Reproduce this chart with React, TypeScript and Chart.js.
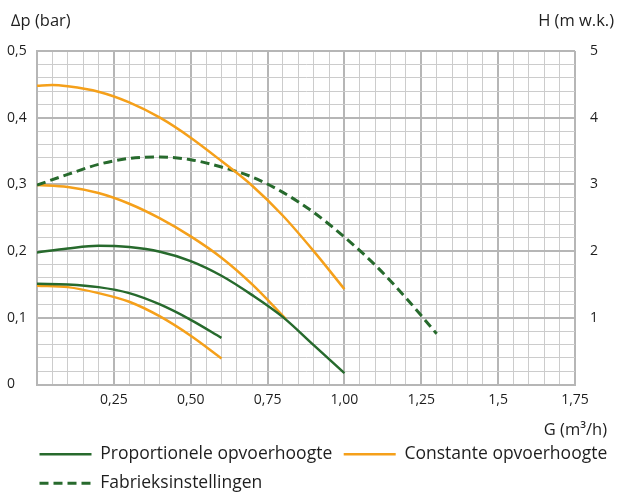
import React, { useEffect, useRef } from 'react';
import { Chart, registerables } from 'chart.js';

Chart.register(...registerables);

// ---- data ----
const propHighX = [0, 0.1, 0.2, 0.3, 0.4, 0.5, 0.6, 0.7, 0.8, 0.9, 1.0];
const propHighY = [0.198, 0.204, 0.208, 0.206, 0.199, 0.185, 0.163, 0.134, 0.101, 0.059, 0.017];

const propLowX = [0, 0.1, 0.2, 0.3, 0.4, 0.5, 0.6];
const propLowY = [0.151, 0.15, 0.146, 0.137, 0.12, 0.097, 0.07];

const constHighX = [0, 0.05, 0.1, 0.2, 0.3, 0.4, 0.5, 0.6, 0.7, 0.8, 0.9, 1.0];
const constHighY = [0.448, 0.449, 0.447, 0.439, 0.423, 0.4, 0.37, 0.335, 0.298, 0.253, 0.2, 0.143];

const constMidX = [0, 0.1, 0.2, 0.3, 0.4, 0.5, 0.6, 0.7, 0.81];
const constMidY = [0.299, 0.296, 0.287, 0.271, 0.249, 0.222, 0.19, 0.15, 0.098];

const constLowX = [0, 0.1, 0.2, 0.3, 0.4, 0.5, 0.6];
const constLowY = [0.148, 0.146, 0.137, 0.124, 0.102, 0.073, 0.039];

const factoryX = [0, 0.1, 0.2, 0.3, 0.4, 0.5, 0.6, 0.7, 0.8, 0.9, 1.0, 1.1, 1.2, 1.3];
const factoryY = [0.299, 0.315, 0.33, 0.339, 0.341, 0.337, 0.326, 0.311, 0.288, 0.258, 0.221, 0.179, 0.13, 0.076];

const xTickValues = [0.25, 0.5, 0.75, 1.0, 1.25, 1.5, 1.75];
const xTickLabels = ['0,25', '0,50', '0,75', '1,00', '1,25', '1,5', '1,75'];
const yTickValues = [0, 0.1, 0.2, 0.3, 0.4, 0.5];
const yTickLabels = ['0', '0,1', '0,2', '0,3', '0,4', '0,5'];
const hTickValues = [1, 2, 3, 4, 5];
const hTickLabels = ['1', '2', '3', '4', '5'];

const seriesLabels = ['Proportionele opvoerhoogte', 'Constante opvoerhoogte', 'Fabrieksinstellingen'];
const leftAxisTitle = '\u2206p (bar)';
const rightAxisTitle = 'H (m w.k.)';
const xAxisTitle = 'G (m\u00B3/h)';

// ---- styles ----
const GREEN = '#276a2d';
const ORANGE = '#f5a01a';
const TEXT = '#1e1e1e';
const FONT = '"Open Sans", "DejaVu Sans", sans-serif';
const MINOR = '#cccccc';
const MAJOR = '#b6b6b6';

const zip = (xs: number[], ys: number[]) => xs.map((x, i) => ({ x, y: ys[i] }));
const labelFor = (v: number, vals: number[], labels: string[]) => {
  const i = vals.findIndex((t) => Math.abs(t - v) < 1e-6);
  return i >= 0 ? labels[i] : '';
};
const isMult = (v: number, step: number) => Math.abs(v / step - Math.round(v / step)) < 1e-6;

export default function App() {
  const ref = useRef<HTMLCanvasElement>(null);

  useEffect(() => {
    if (!ref.current) return;

    const titles = {
      id: 'axisTitles',
      afterDraw(chart: any) {
        const { ctx } = chart;
        ctx.save();
        ctx.fillStyle = TEXT;
        ctx.font = `16.5px ${FONT}`;
        ctx.textBaseline = 'middle';
        ctx.textAlign = 'left';
        ctx.fillText(leftAxisTitle, 11, 21);
        ctx.textAlign = 'right';
        ctx.fillText(rightAxisTitle, 614, 21);
        ctx.fillText(xAxisTitle, 607, 430);
        ctx.restore();
      },
    };

    const base = {
      pointRadius: 0,
      pointHoverRadius: 0,
      fill: false,
      cubicInterpolationMode: 'monotone' as const,
      borderCapStyle: 'butt' as const,
    };

    const chart = new Chart(ref.current, {
      type: 'line',
      data: {
        datasets: [
          { ...base, label: seriesLabels[0], data: zip(propHighX, propHighY), borderColor: GREEN, backgroundColor: GREEN, borderWidth: 2.5 },
          { ...base, label: seriesLabels[1], data: zip(constHighX, constHighY), borderColor: ORANGE, backgroundColor: ORANGE, borderWidth: 2.5 },
          { ...base, label: seriesLabels[2], data: zip(factoryX, factoryY), borderColor: GREEN, backgroundColor: GREEN, borderWidth: 3, borderDash: [9, 5] },
          { ...base, label: '', data: zip(propLowX, propLowY), borderColor: GREEN, backgroundColor: GREEN, borderWidth: 2.5 },
          { ...base, label: '', data: zip(constMidX, constMidY), borderColor: ORANGE, backgroundColor: ORANGE, borderWidth: 2.5 },
          { ...base, label: '', data: zip(constLowX, constLowY), borderColor: ORANGE, backgroundColor: ORANGE, borderWidth: 2.5 },
        ],
      },
      options: {
        animation: false,
        responsive: false,
        devicePixelRatio: 1,
        events: [],
        layout: { padding: { left: 28, right: -12, top: 51, bottom: 0 } },
        scales: {
          x: {
            type: 'linear',
            min: 0,
            max: 1.75,
            afterFit: (s: any) => { s.height = 49.5; },
            ticks: {
              stepSize: 0.05,
              autoSkip: false,
              maxRotation: 0,
              padding: 7,
              color: TEXT,
              font: { family: FONT, size: 14 },
              callback: (v: any) => labelFor(Number(v), xTickValues, xTickLabels),
            },
            grid: {
              drawTicks: false,
              color: (c: any) => (isMult(c.tick.value, 0.25) ? MAJOR : MINOR),
              lineWidth: (c: any) => (isMult(c.tick.value, 0.25) ? 2 : 1),
            },
            border: { display: true, color: MAJOR, width: 2 },
          },
          y: {
            type: 'linear',
            position: 'left',
            min: 0,
            max: 0.5,
            afterFit: (s: any) => { s.width = 9; },
            ticks: {
              stepSize: 0.02,
              autoSkip: false,
              mirror: true,
              padding: -30,
              color: TEXT,
              font: { family: FONT, size: 14 },
              callback: (v: any) => labelFor(Number(v), yTickValues, yTickLabels),
            },
            grid: {
              drawTicks: false,
              color: (c: any) => (isMult(c.tick.value, 0.1) ? MAJOR : MINOR),
              lineWidth: (c: any) => (isMult(c.tick.value, 0.1) ? 2 : 1),
            },
            border: { display: true, color: MAJOR, width: 2 },
          },
          y2: {
            type: 'linear',
            position: 'right',
            min: 0,
            max: 5,
            afterFit: (s: any) => { s.width = 60; },
            ticks: {
              stepSize: 1,
              autoSkip: false,
              padding: 15,
              color: TEXT,
              font: { family: FONT, size: 14 },
              callback: (v: any) => labelFor(Number(v), hTickValues, hTickLabels),
            },
            grid: { display: false, drawTicks: false },
            border: { display: false },
          },
        },
        plugins: {
          tooltip: { enabled: false },
          title: { display: false },
          legend: {
            display: true,
            position: 'bottom',
            align: 'start',
            maxHeight: 58,
            labels: {
              usePointStyle: true,
              pointStyle: 'line',
              pointStyleWidth: 52,
              padding: 11.5,
              color: TEXT,
              font: { family: FONT, size: 17.5 },
              generateLabels: (ch: any) =>
                ch.data.datasets
                  .map((ds: any, i: number) => ({
                    text: ds.label,
                    fillStyle: ds.borderColor,
                    strokeStyle: ds.borderColor,
                    lineWidth: ds.borderWidth,
                    lineDash: ds.borderDash || [],
                    lineCap: 'butt',
                    pointStyle: 'line',
                    fontColor: TEXT,
                    hidden: false,
                    datasetIndex: i,
                  }))
                  .filter((l: any) => l.text !== ''),
            },
          },
        },
      },
      plugins: [titles],
    } as any);

    return () => chart.destroy();
  }, []);

  return (
    <div style={{ position: 'absolute', left: 0, top: 0, width: 623, height: 492, background: '#fff' }}>
      <canvas ref={ref} width={623} height={492} style={{ display: 'block' }} />
    </div>
  );
}
